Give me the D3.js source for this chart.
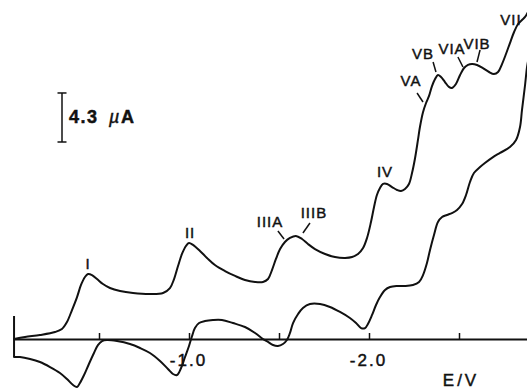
<!DOCTYPE html>
<html>
<head>
<meta charset="utf-8">
<script src="https://cdn.jsdelivr.net/npm/d3@7"></script>
<style>
  html, body { margin: 0; padding: 0; background: #fff; }
  svg { display: block; }
  text { font-family: "Liberation Sans", Arial, Helvetica, sans-serif; fill: #111; stroke: #111; stroke-width: 0.45px; }
</style>
</head>
<body>
<svg id="chart" width="527" height="390"></svg>
<script>
// Cyclic voltammogram: cathodic (forward) sweep, potential in V and current in µA
const forwardPotential = [
  -0.028, -0.089, -0.172, -0.256, -0.294, -0.322, -0.350, -0.378, -0.400, -0.422,
  -0.439, -0.461, -0.489, -0.522, -0.561, -0.617, -0.689, -0.783, -0.856, -0.894,
  -0.917, -0.939, -0.961, -0.983, -1.000, -1.022, -1.061, -1.100, -1.144, -1.200,
  -1.256, -1.311, -1.367, -1.411, -1.439, -1.461, -1.483, -1.506, -1.533, -1.561,
  -1.594, -1.628, -1.661, -1.700, -1.756, -1.811, -1.867, -1.906, -1.939, -1.967,
  -1.989, -2.011, -2.028, -2.044, -2.061, -2.078, -2.100, -2.128, -2.156, -2.178,
  -2.200, -2.222, -2.239, -2.256, -2.272, -2.283, -2.300, -2.317, -2.333, -2.350,
  -2.367, -2.383, -2.400, -2.422, -2.444, -2.461, -2.483, -2.506, -2.528, -2.550,
  -2.572, -2.600, -2.633, -2.667, -2.694, -2.717, -2.739, -2.761, -2.783, -2.806,
  -2.828, -2.850, -2.867, -2.883, -2.900, -2.917, -2.930
];
const forwardCurrent = [
  0.00, 0.18, 0.35, 0.61, 0.88, 1.49, 2.54, 3.68, 4.74, 5.44,
  5.70, 5.61, 5.26, 4.82, 4.47, 4.21, 4.04, 3.95, 4.04, 4.47,
  5.26, 6.40, 7.46, 8.16, 8.42, 8.25, 7.72, 7.11, 6.49, 5.96,
  5.53, 5.18, 5.00, 5.00, 5.26, 6.05, 7.02, 7.89, 8.51, 8.86,
  9.04, 8.77, 8.33, 7.89, 7.46, 7.19, 7.11, 7.19, 7.46, 7.98,
  8.86, 10.26, 11.58, 12.63, 13.25, 13.60, 13.60, 13.33, 13.07, 12.98,
  13.16, 13.60, 14.56, 15.88, 17.46, 18.60, 19.90, 20.70, 21.30, 22.19,
  22.81, 23.16, 22.98, 22.54, 22.11, 22.02, 22.37, 23.16, 23.77, 24.04,
  24.12, 24.04, 23.77, 23.42, 23.25, 23.42, 24.12, 25.00, 25.96, 26.93,
  27.63, 27.98, 28.25, 28.68, 29.30, 30.18, 30.60
];

// Anodic (reverse) sweep back to the starting potential
const reversePotential = [
  -2.894, -2.878, -2.867, -2.850, -2.839, -2.817, -2.783, -2.728, -2.689, -2.644,
  -2.617, -2.583, -2.561, -2.539, -2.517, -2.489, -2.461, -2.433, -2.406, -2.383,
  -2.361, -2.339, -2.322, -2.300, -2.278, -2.244, -2.200, -2.156, -2.117, -2.089,
  -2.061, -2.039, -2.017, -1.994, -1.978, -1.956, -1.928, -1.894, -1.839, -1.783,
  -1.728, -1.672, -1.633, -1.606, -1.578, -1.561, -1.544, -1.522, -1.494, -1.467,
  -1.439, -1.411, -1.367, -1.311, -1.244, -1.183, -1.133, -1.089, -1.056, -1.033,
  -1.017, -1.000, -0.978, -0.956, -0.933, -0.911, -0.883, -0.839, -0.783, -0.728,
  -0.672, -0.600, -0.544, -0.517, -0.494, -0.472, -0.444, -0.417, -0.394, -0.378,
  -0.356, -0.322, -0.283, -0.228, -0.172, -0.117, -0.061, -0.028
];
const reverseCurrent = [
  25.35, 23.86, 22.28, 20.09, 18.60, 17.46, 16.84, 16.32, 15.96, 15.44,
  15.09, 14.56, 13.77, 12.63, 11.84, 11.32, 11.05, 10.88, 10.70, 10.26,
  9.12, 7.81, 6.67, 5.61, 5.00, 4.74, 4.65, 4.65, 4.56, 4.30,
  3.68, 2.98, 2.11, 1.32, 0.96, 0.96, 1.40, 1.84, 2.37, 2.81,
  3.07, 3.07, 2.72, 2.19, 1.40, 0.53, -0.09, -0.44, -0.61, -0.53,
  -0.26, 0.00, 0.53, 1.05, 1.40, 1.67, 1.67, 1.58, 1.40, 0.96,
  0.26, -0.61, -1.58, -2.54, -3.16, -3.07, -2.63, -1.93, -1.23, -0.79,
  -0.44, -0.18, -0.09, -0.18, -0.53, -1.23, -2.19, -3.16, -3.86, -4.21,
  -4.04, -3.51, -2.98, -2.46, -2.02, -1.75, -1.58, -1.58
];

// Recorder step at the initial potential
const startPotential = -0.028;
const startStepCurrent = [-1.58, 2.02];

// Potential axis
const axisEnd = -2.878;
const axisTicks = [-0.5, -1.0, -1.5, -2.0, -2.5];
const axisLabelled = [-1.0, -2.0];

// Wave labels: name, potential and current of the label baseline
const peakNames = ["I", "II", "IIIA", "IIIB", "IV", "VA", "VB", "VIA", "VIB", "VII"];
const peakLabelPotential = [-0.439, -1.006, -1.450, -1.694, -2.089, -2.233, -2.300, -2.461, -2.600, -2.789];
const peakLabelCurrent = [6.14, 8.86, 9.82, 10.61, 14.21, 22.19, 24.56, 25.00, 25.44, 27.54];

// Leader strokes from a label to its wave: [E1, i1, E2, i2]
const leaderNames = ["IIIA", "IIIB", "VA", "VB", "VIA", "VIB"];
const leaderSegments = [
  [-1.494, 9.47, -1.528, 8.77],
  [-1.672, 10.18, -1.633, 9.30],
  [-2.267, 21.58, -2.300, 20.79],
  [-2.356, 24.30, -2.372, 23.42],
  [-2.494, 24.74, -2.522, 23.86],
  [-2.617, 25.35, -2.600, 24.30]
];

// Current scale bar
const scaleBarCurrent = 4.3;

const svg = d3.select("#chart");
const W = 527, H = 390;
svg.append("rect").attr("width", W).attr("height", H).attr("fill", "#fff");

const x = d3.scaleLinear().domain([0, -1]).range([9, 189]);
const y = d3.scaleLinear().domain([0, 1]).range([339, 339 - 11.4]);

const ink = "#111";

// Axis
const axisScale = x.copy().domain([startPotential, axisEnd]).range([x(startPotential), x(axisEnd)]);
const axis = d3.axisBottom(axisScale)
  .tickValues(axisTicks)
  .tickSizeInner(-6)
  .tickSizeOuter(0)
  .tickPadding(15)
  .tickFormat(d => axisLabelled.includes(d) ? d.toFixed(1) : "");

const gAxis = svg.append("g")
  .attr("transform", `translate(0,${y(0)})`)
  .call(axis);
gAxis.select(".domain").attr("stroke", ink).attr("stroke-width", 2);
gAxis.selectAll(".tick line").attr("stroke", ink).attr("stroke-width", 1.5);
gAxis.selectAll(".tick text")
  .attr("fill", ink)
  .attr("dx", "-1")
  .style("font-family", "'Liberation Sans', Arial, sans-serif")
  .style("font-size", "17px")
  .style("letter-spacing", "2px");

svg.append("text")
  .attr("x", x(-2.5) + 2)
  .attr("y", y(0) + 47)
  .attr("text-anchor", "middle")
  .style("font-size", "17px")
  .style("letter-spacing", "3px")
  .text("E/V");

// Voltammogram trace
const line = d3.line()
  .x(d => x(d[0]))
  .y(d => y(d[1]))
  .curve(d3.curveCatmullRom.alpha(0.5));

const forward = forwardPotential.map((e, k) => [e, forwardCurrent[k]]);
const reverse = reversePotential.map((e, k) => [e, reverseCurrent[k]]);

svg.append("path")
  .datum(forward.concat(reverse))
  .attr("d", line)
  .attr("fill", "none")
  .attr("stroke", ink)
  .attr("stroke-width", 2)
  .attr("stroke-linejoin", "round")
  .attr("stroke-linecap", "round");

svg.append("line")
  .attr("x1", x(startPotential)).attr("x2", x(startPotential))
  .attr("y1", y(startStepCurrent[0])).attr("y2", y(startStepCurrent[1]))
  .attr("stroke", ink).attr("stroke-width", 2);

// Wave labels
svg.selectAll("text.peak")
  .data(peakNames)
  .join("text")
  .attr("class", "peak")
  .attr("x", (d, k) => x(peakLabelPotential[k]))
  .attr("y", (d, k) => y(peakLabelCurrent[k]))
  .attr("text-anchor", "middle")
  .style("font-size", "15px")
  .style("letter-spacing", "1px")
  .text(d => d);

svg.selectAll("line.leader")
  .data(leaderSegments)
  .join("line")
  .attr("class", "leader")
  .attr("x1", d => x(d[0])).attr("y1", d => y(d[1]))
  .attr("x2", d => x(d[2])).attr("y2", d => y(d[3]))
  .attr("stroke", ink).attr("stroke-width", 1.5);

// Current scale bar
const barX = 62, barBottom = 142;
const barLen = y(0) - y(scaleBarCurrent);
const gBar = svg.append("g").attr("stroke", ink).attr("stroke-width", 1.5);
gBar.append("line").attr("x1", barX).attr("x2", barX).attr("y1", barBottom).attr("y2", barBottom - barLen);
gBar.append("line").attr("x1", barX - 4.5).attr("x2", barX + 4.5).attr("y1", barBottom).attr("y2", barBottom);
gBar.append("line").attr("x1", barX - 4.5).attr("x2", barX + 4.5).attr("y1", barBottom - barLen).attr("y2", barBottom - barLen);

const barText = svg.append("text")
  .attr("x", barX + 7)
  .attr("y", barBottom - barLen / 2 + 6)
  .style("font-size", "18px")
  .style("font-weight", "bold")
  .style("letter-spacing", "1.5px");
barText.append("tspan").text(scaleBarCurrent.toFixed(1) + " ");
barText.append("tspan").style("font-style", "italic").style("font-weight", "normal").attr("dx", 4).text("µ");
barText.append("tspan").text("A");
</script>
</body>
</html>
